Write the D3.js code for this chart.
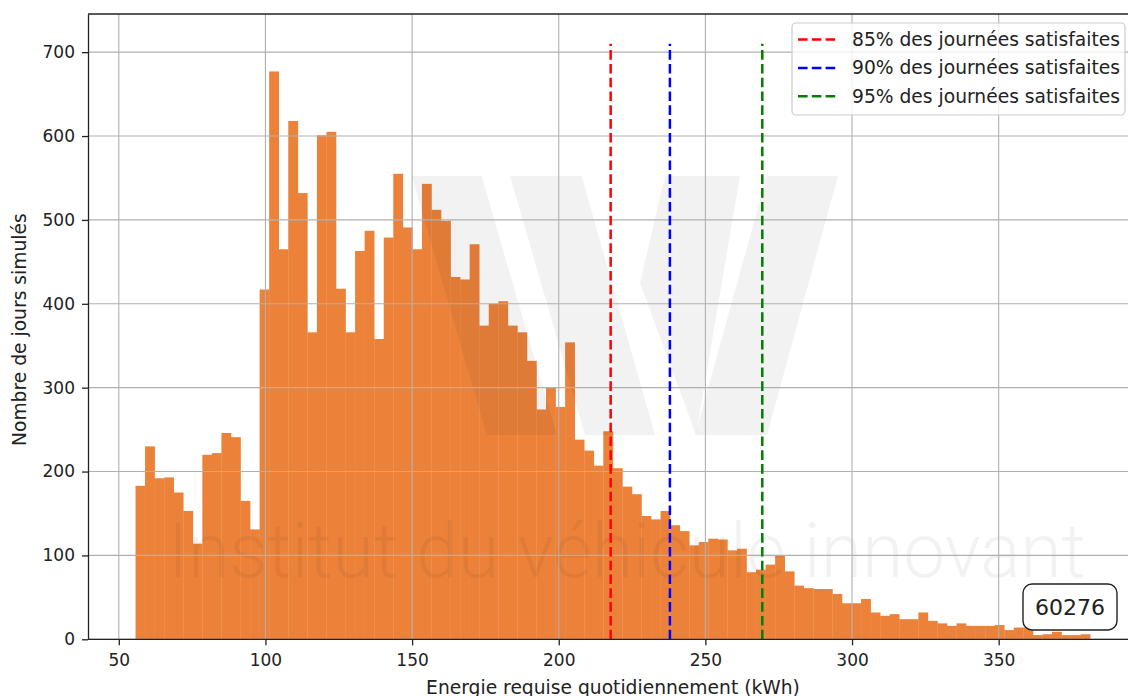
<!DOCTYPE html>
<html>
<head>
<meta charset="utf-8">
<script src="https://cdn.jsdelivr.net/npm/d3@7"></script>
<style>
    body { margin: 0; background: #fff; }
    svg { display: block; font-family: "DejaVu Sans", sans-serif; }
</style>
</head>
<body>
<div id="canvas"></div>
<script>
"use strict";

// histogram of simulated days, 100 bins between these two energies (kWh)
const binRange = [55.7, 381.2];
const counts = [
    183, 230, 192, 193, 175, 153, 114, 220, 222, 246,
    241, 165, 131, 417, 677, 465, 618, 532, 366, 601,
    605, 418, 366, 463, 487, 358, 479, 555, 491, 465,
    543, 512, 499, 432, 429, 471, 374, 400, 403, 374,
    366, 332, 274, 300, 277, 354, 238, 225, 207, 248,
    204, 182, 173, 147, 143, 153, 136, 129, 112, 116,
    120, 119, 106, 108, 80, 83, 89, 100, 81, 64,
    61, 60, 60, 54, 43, 43, 48, 32, 28, 30,
    24, 24, 32, 22, 19, 16, 19, 16, 16, 16,
    17, 11, 14, 14, 5, 6, 9, 5, 5, 6
];

// percentile thresholds
const thresholds = [217.7, 237.9, 269.4];
const thresholdLabels = [
    "85% des journées satisfaites",
    "90% des journées satisfaites",
    "95% des journées satisfaites"
];
const thresholdColors = ["#ff0000", "#0000ff", "#008000"];
const thresholdTop = 710;

const xTicks = [50, 100, 150, 200, 250, 300, 350];
const yTicks = [0, 100, 200, 300, 400, 500, 600, 700];
const boxLabel = "60276";

const W = 1128, H = 696;
const pLeft = 88, pRight = 1138, pTop = 14, pBottom = 639.3;

let svg = d3.select("#canvas")
    .append("svg")
    .attr("width", W)
    .attr("height", H);

let x = d3.scaleLinear().domain([39.5, 397.5]).range([pLeft, pRight]);
let y = d3.scaleLinear().domain([0, 745.5]).range([pBottom, pTop]);

let binWidth = (binRange[1] - binRange[0]) / counts.length;
let bins = counts.map((c, i) => ({
    x0: binRange[0] + i * binWidth,
    x1: binRange[0] + (i + 1) * binWidth,
    count: c
}));

// bars
svg.append("g")
    .selectAll("rect")
    .data(bins)
    .join("rect")
    .attr("x", d => x(d.x0))
    .attr("width", d => x(d.x1) - x(d.x0) + 0.3)
    .attr("y", d => y(d.count))
    .attr("height", d => y(0) - y(d.count))
    .attr("fill", "#ec823a");

// watermark
drawWatermark(svg);

// grid
let grid = svg.append("g")
    .attr("stroke", "#b0b0b0")
    .attr("stroke-width", 1.1);
grid.selectAll("line.gx")
    .data(xTicks)
    .join("line")
    .attr("class", "gx")
    .attr("x1", d => x(d)).attr("x2", d => x(d))
    .attr("y1", pTop).attr("y2", pBottom);
grid.selectAll("line.gy")
    .data(yTicks)
    .join("line")
    .attr("class", "gy")
    .attr("x1", pLeft).attr("x2", pRight)
    .attr("y1", d => y(d)).attr("y2", d => y(d));

// threshold lines
svg.append("g")
    .selectAll("line")
    .data(thresholds)
    .join("line")
    .attr("x1", d => x(d)).attr("x2", d => x(d))
    .attr("y1", y(0)).attr("y2", y(thresholdTop))
    .attr("stroke", (d, i) => thresholdColors[i])
    .attr("stroke-width", 2.5)
    .attr("stroke-dasharray", "9.6,4.2");

// axes
let xAxis = svg.append("g")
    .attr("transform", `translate(0,${pBottom})`)
    .call(d3.axisBottom(x).tickValues(xTicks).tickSize(6).tickPadding(9).tickSizeOuter(0));
let yAxis = svg.append("g")
    .attr("transform", `translate(${pLeft},0)`)
    .call(d3.axisLeft(y).tickValues(yTicks).tickSize(6).tickPadding(7).tickSizeOuter(0));

[xAxis, yAxis].forEach(a => {
    a.select(".domain").attr("stroke", "#222").attr("stroke-width", 1.3);
    a.selectAll(".tick line").attr("stroke", "#222").attr("stroke-width", 1.3);
    a.selectAll(".tick text")
        .attr("fill", "#222")
        .style("font-size", "17px")
        .style("font-family", "DejaVu Sans");
});
xAxis.select(".domain").attr("d", `M${pLeft},0H${W}`);

// top spine
svg.append("line")
    .attr("x1", pLeft).attr("x2", W)
    .attr("y1", pTop).attr("y2", pTop)
    .attr("stroke", "#222")
    .attr("stroke-width", 1.3);

// axis labels (x label sits at the bottom edge, as in the original figure)
svg.append("text")
    .attr("x", 613)
    .attr("y", 694)
    .attr("text-anchor", "middle")
    .attr("fill", "#222")
    .style("font-size", "18.7px")
    .text("Energie requise quotidiennement (kWh)");

svg.append("text")
    .attr("transform", `translate(26,${(pTop + pBottom) / 2 + 3}) rotate(-90)`)
    .attr("text-anchor", "middle")
    .attr("fill", "#222")
    .style("font-size", "18.7px")
    .text("Nombre de jours simulés");

drawLegend(svg);
drawCountBox(svg);

function drawWatermark(canvas) {
    let wm = canvas.append("g")
        .attr("fill", "#000")
        .attr("fill-opacity", 0.05);

    let strokes = [
        [[411.7, 176], [481.7, 176], [556.7, 435], [486.7, 435]],
        [[510, 176], [581.7, 176], [655, 435], [585, 435]],
        [[665, 176], [740, 176], [696, 435], [640, 283]],
        [[766.7, 176], [838, 176], [767, 435], [695, 435]]
    ];
    wm.selectAll("polygon")
        .data(strokes)
        .join("polygon")
        .attr("points", d => d.map(p => p.join(",")).join(" "));

    wm.append("text")
        .attr("x", 168)
        .attr("y", 577)
        .attr("textLength", 918)
        .attr("lengthAdjust", "spacingAndGlyphs")
        .style("font-family", "Roboto, Lato, sans-serif")
        .style("font-weight", 300)
        .style("font-size", "76px")
        .text("Institut du véhicule innovant");
}

function drawLegend(canvas) {
    let lg = canvas.append("g");
    lg.append("rect")
        .attr("x", 792)
        .attr("y", 23)
        .attr("width", 333)
        .attr("height", 92)
        .attr("rx", 4)
        .attr("fill", "#fff")
        .attr("fill-opacity", 0.8)
        .attr("stroke", "#cccccc")
        .attr("stroke-width", 1.2);

    let rows = lg.selectAll("g.row")
        .data(thresholdLabels)
        .join("g")
        .attr("class", "row")
        .attr("transform", (d, i) => `translate(0,${39.5 + i * 28.4})`);
    rows.append("line")
        .attr("x1", 798).attr("x2", 837)
        .attr("stroke", (d, i) => thresholdColors[i])
        .attr("stroke-width", 2.5)
        .attr("stroke-dasharray", "9.6,4.2");
    rows.append("text")
        .attr("x", 852)
        .attr("dy", "0.35em")
        .attr("fill", "#222")
        .style("font-size", "18.7px")
        .text(d => d);
}

function drawCountBox(canvas) {
    let g = canvas.append("g");
    g.append("rect")
        .attr("x", 1023)
        .attr("y", 584)
        .attr("width", 94)
        .attr("height", 46)
        .attr("rx", 9)
        .attr("fill", "#fff")
        .attr("stroke", "#222")
        .attr("stroke-width", 1.4);
    g.append("text")
        .attr("x", 1070)
        .attr("y", 615)
        .attr("text-anchor", "middle")
        .attr("fill", "#222")
        .style("font-size", "22px")
        .text(boxLabel);
}
</script>
</body>
</html>
